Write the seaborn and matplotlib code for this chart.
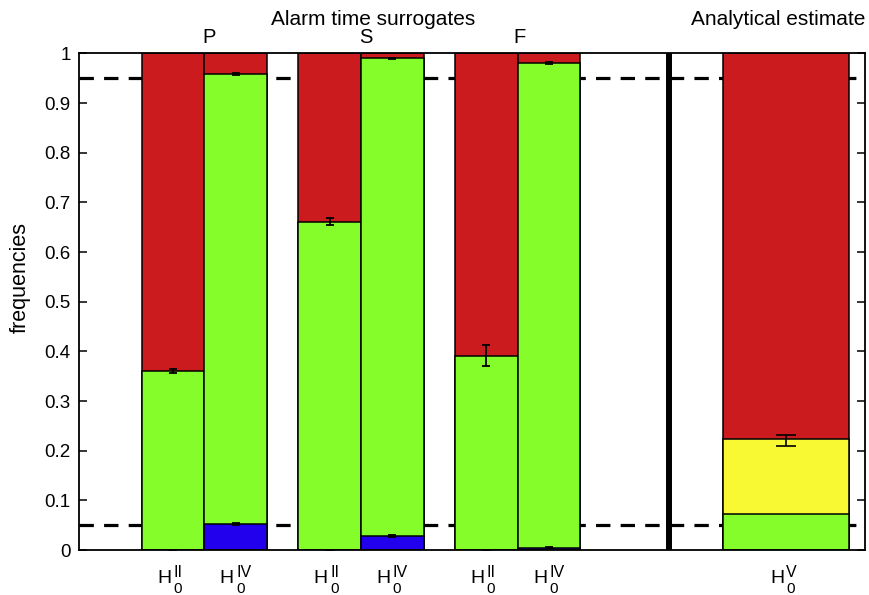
import matplotlib

matplotlib.use("Agg")

import matplotlib.pyplot as plt
import numpy as np
import pandas as pd
import seaborn as sns
from matplotlib.ticker import FuncFormatter

# surrogate bars (left panel), three groups with two hypotheses each
groups = ["P", "S", "F"]
group_pos = [2.07, 4.57, 7.03]
bar_sup = ["II", "IV"] * 3
bar_pos = [1.5, 2.5, 4.0, 5.0, 6.5, 7.5]
blue_frac = [0.0, 0.052, 0.0, 0.028, 0.0, 0.005]
green_top = [0.360, 0.958, 0.661, 0.990, 0.391, 0.980]
green_err = [0.004, 0.002, 0.007, 0.001, 0.021, 0.002]
blue_err = [0.001, 0.002, 0.001, 0.002, 0.001, 0.001]

# analytical estimate (right panel)
ana_sup = ["V"]
ana_pos = [11.28]
ana_green = [0.072]
ana_yellow_top = [0.223]
ana_est = [0.220]
ana_err = [0.0115]

levels = [0.05, 0.95]

RED = "#cc1b1e"
GREEN = "#84fd2b"
BLUE = "#2200ee"
YELLOW = "#f8f932"

sns.set_style("ticks")
plt.rcParams["font.family"] = ["Liberation Sans", "DejaVu Sans"]
for key in ["text.color", "axes.labelcolor", "xtick.color", "ytick.color"]:
    plt.rcParams[key] = "black"

left = pd.DataFrame({"pos": bar_pos, "total": 1.0, "green": green_top, "blue": blue_frac})
right = pd.DataFrame({"pos": ana_pos, "total": 1.0, "yellow": ana_yellow_top, "green": ana_green})

fig = plt.figure(figsize=(8.7, 5.95), dpi=100)
ax = fig.add_axes([0.0908, 0.0756, 0.9034, 0.8345])

for y in levels:
    ax.axhline(y, color="black", lw=2.3, dashes=(4.5, 3.2), zorder=0.5)

bar_kw = dict(native_scale=True, errorbar=None, edgecolor="black", linewidth=1.1, ax=ax)
for col, colour in [("total", RED), ("green", GREEN), ("blue", BLUE)]:
    sns.barplot(data=left, x="pos", y=col, color=colour, width=1.0, saturation=1, **bar_kw)
for col, colour in [("total", RED), ("yellow", YELLOW), ("green", GREEN)]:
    sns.barplot(data=right, x="pos", y=col, color=colour, width=2.0, saturation=1, **bar_kw)

ax.errorbar(bar_pos, green_top, yerr=green_err, fmt="none", ecolor="black", elinewidth=1.3, capsize=3, capthick=1.3, zorder=5)
ax.errorbar(bar_pos, blue_frac, yerr=blue_err, fmt="none", ecolor="black", elinewidth=1.3, capsize=3, capthick=1.3, zorder=5)
ax.errorbar(ana_pos, ana_est, yerr=ana_err, fmt="none", ecolor="black", elinewidth=1.2, capsize=7, capthick=1.2, zorder=5)

ax.axvline(9.41, color="black", lw=4.3, zorder=6)

ax.set_xlim(0, 12.54)
ax.set_ylim(0, 1)
ax.set_yticks(np.arange(0, 1.01, 0.1))
ax.yaxis.set_major_formatter(FuncFormatter(lambda v, _: f"{v:.1f}".rstrip("0").rstrip(".") if v else "0"))
ax.set_xticks([])
ax.tick_params(axis="y", direction="in", length=6, width=1.1, right=True, labelsize=13.5, pad=6)
for sp in ax.spines.values():
    sp.set_visible(True)
    sp.set_linewidth(1.3)
    sp.set_color("black")
ax.set_xlabel("")
ax.set_ylabel("frequencies", fontsize=15.5)
ax.yaxis.set_label_coords(-0.061, 0.549)

# H_0^X labels under the bars, drawn as H plus stacked super/subscript
xt = ax.get_xaxis_transform()
for x, sup in zip(bar_pos + ana_pos, bar_sup + ana_sup):
    ax.annotate("H", (x, 0), xycoords=xt, xytext=(-1.4, -23.8), textcoords="offset points",
                ha="right", va="baseline", fontsize=14)
    ax.annotate(sup, (x, 0), xycoords=xt, xytext=(0.3, -19.4), textcoords="offset points",
                ha="left", va="baseline", fontsize=11.5)
    ax.annotate("0", (x, 0), xycoords=xt, xytext=(0.3, -31.0), textcoords="offset points",
                ha="left", va="baseline", fontsize=11)

for name, x in zip(groups, group_pos):
    ax.text(x, 1.013, name, ha="center", va="bottom", fontsize=14.5, transform=xt)
ax.text(4.7, 1.05, "Alarm time surrogates", ha="center", va="bottom", fontsize=15, transform=xt)
ax.text(11.16, 1.05, "Analytical estimate", ha="center", va="bottom", fontsize=15, transform=xt)

fig.savefig("out.png", dpi=100)
